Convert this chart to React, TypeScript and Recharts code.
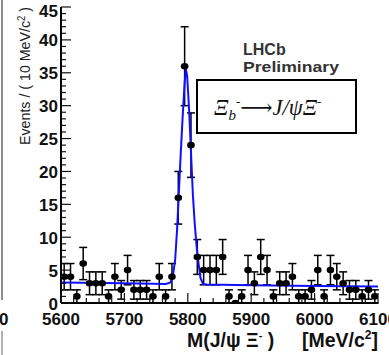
import React from 'react'
import { ComposedChart, Scatter, Line, XAxis, YAxis, ErrorBar } from 'recharts'

// histogram: bin centres (10 MeV/c2 bins) and counts
const binCentres = [
  5605, 5615, 5625, 5635, 5645, 5655, 5665, 5675, 5685, 5695,
  5705, 5715, 5725, 5735, 5745, 5755, 5765, 5775, 5785, 5795,
  5805, 5815, 5825, 5835, 5845, 5855, 5865, 5875, 5885, 5895,
  5905, 5915, 5925, 5935, 5945, 5955, 5965, 5975, 5985, 5995,
  6005, 6015, 6025, 6035, 6045, 6055, 6065, 6075, 6085, 6095,
]
const counts = [
  4, 4, 1, 6, 3, 3, 3, 1, 4, 2,
  5, 2, 2, 2, 1, 4, 1, 4, 16, 36,
  24, 7, 5, 5, 5, 7, 1, 0, 1, 5,
  3, 7, 5, 1, 3, 3, 4, 1, 1, 2,
  5, 1, 5, 4, 3, 2, 2, 1, 2, 1,
]

// fitted curve
const fitMass = [
  5600, 5700, 5765, 5772, 5776, 5780, 5783, 5786, 5789, 5792, 5795, 5797,
  5799, 5802, 5805, 5808, 5811, 5814, 5817, 5820, 5824, 5830, 5900, 6000, 6100,
]
const fitValues = [
  3.1, 3.0, 2.9, 3.1, 3.8, 6.5, 11, 17, 23, 28.5, 33.5, 35.6,
  34.5, 29.5, 23, 16.5, 12, 8.5, 6, 3.8, 2.9, 2.8, 2.7, 2.6, 2.5,
]

const xMajorTicks = [5600, 5700, 5800, 5900, 6000, 6100]
const yMajorTicks = [0, 5, 10, 15, 20, 25, 30, 35, 40, 45]

const xTicks: number[] = []
for (let v = 5600; v <= 6100; v += 20) xTicks.push(v)
const yTicks: number[] = []
for (let v = 0; v <= 45; v += 1) yTicks.push(v)

const histData = binCentres.map((x, i) => ({ x, y: counts[i], err: Math.sqrt(counts[i]) }))
const fitData = fitMass.map((x, i) => ({ x, y: fitValues[i] }))

const W = 389
const H = 355
const FRAME = { left: 61, right: 378, top: 7, bottom: 303 }
const SANS = '"Liberation Sans", Arial, Helvetica, sans-serif'
const TICK = '#111'

function BottomTick({ x, payload }: any) {
  const major = xMajorTicks.includes(payload.value)
  return (
    <g>
      <line x1={x} x2={x} y1={FRAME.bottom} y2={FRAME.bottom - (major ? 10 : 5)} stroke={TICK} strokeWidth={1.2} />
      {major && (
        <text x={x} y={325} textAnchor="middle" fontFamily={SANS} fontWeight="bold" fontSize={17} fill="#111">
          {payload.value}
        </text>
      )}
    </g>
  )
}

function TopTick({ x, payload }: any) {
  const major = xMajorTicks.includes(payload.value)
  return <line x1={x} x2={x} y1={FRAME.top} y2={FRAME.top + (major ? 10 : 5)} stroke={TICK} strokeWidth={1.2} />
}

function LeftTick({ y, payload }: any) {
  const major = yMajorTicks.includes(payload.value)
  return (
    <g>
      <line x1={FRAME.left} x2={FRAME.left + (major ? 10 : 5)} y1={y} y2={y} stroke={TICK} strokeWidth={1.2} />
      {major && (
        <text x={58} y={Math.max(y + 6.5, 17)} textAnchor="end" fontFamily={SANS} fontWeight="bold" fontSize={17} fill="#111">
          {payload.value}
        </text>
      )}
    </g>
  )
}

function RightTick({ y, payload }: any) {
  const major = yMajorTicks.includes(payload.value)
  return <line x1={FRAME.right} x2={FRAME.right - (major ? 10 : 5)} y1={y} y2={y} stroke={TICK} strokeWidth={1.2} />
}

function Dot({ cx, cy }: any) {
  return <ellipse cx={cx} cy={cy} rx={3.8} ry={3.3} fill="#000" />
}

export default function App() {
  return (
    <div style={{ position: 'absolute', left: 0, top: 0, width: W, height: H, background: '#fff' }}>
      <ComposedChart width={W} height={H} margin={{ top: FRAME.top, right: W - FRAME.right, left: 0, bottom: 0 }}>
        <XAxis
          xAxisId="b"
          dataKey="x"
          type="number"
          domain={[5600, 6100]}
          allowDataOverflow
          ticks={xTicks}
          interval={0}
          height={H - FRAME.bottom}
          tickLine={false}
          tickSize={0}
          tick={<BottomTick />}
          axisLine={{ stroke: '#000', strokeWidth: 2 }}
        />
        <XAxis
          xAxisId="t"
          orientation="top"
          dataKey="x"
          type="number"
          domain={[5600, 6100]}
          allowDataOverflow
          ticks={xTicks}
          interval={0}
          height={0}
          tickLine={false}
          tickSize={0}
          tick={<TopTick />}
          axisLine={{ stroke: '#000', strokeWidth: 2 }}
        />
        <YAxis
          yAxisId="l"
          type="number"
          domain={[0, 45]}
          allowDataOverflow
          ticks={yTicks}
          interval={0}
          width={FRAME.left}
          tickLine={false}
          tickSize={0}
          tick={<LeftTick />}
          axisLine={{ stroke: '#000', strokeWidth: 2 }}
        />
        <YAxis
          yAxisId="r"
          orientation="right"
          type="number"
          domain={[0, 45]}
          allowDataOverflow
          ticks={yTicks}
          interval={0}
          width={0}
          tickLine={false}
          tickSize={0}
          tick={<RightTick />}
          axisLine={{ stroke: '#000', strokeWidth: 2 }}
        />
        <Scatter
          xAxisId="b"
          yAxisId="l"
          data={histData}
          dataKey="y"
          shape={<Dot />}
          isAnimationActive={false}
        >
          <ErrorBar dataKey="err" direction="y" width={4} stroke="#000" strokeWidth={1.5} isAnimationActive={false} />
        </Scatter>
        <Line
          xAxisId="b"
          yAxisId="l"
          data={fitData}
          dataKey="y"
          type="linear"
          stroke="#1010ff"
          strokeWidth={2}
          dot={false}
          activeDot={false}
          isAnimationActive={false}
        />
      </ComposedChart>

      <svg width={W} height={H} style={{ position: 'absolute', left: 0, top: 0, pointerEvents: 'none' }}>
        {/* edge of the neighbouring panel */}
        <line x1={2} x2={2} y1={0} y2={300} stroke="#666" strokeWidth={1.5} />
        <line x1={2} x2={2} y1={331} y2={355} stroke="#999" strokeWidth={1.5} />
        <text x={-1} y={325} fontFamily={SANS} fontWeight="bold" fontSize={17} fill="#111">0</text>

        <text
          transform="translate(30,76) rotate(-90)"
          textAnchor="middle"
          fontFamily={SANS}
          fontSize={15}
          fill="#222"
          textLength={138}
          lengthAdjust="spacingAndGlyphs"
        >
          Events / ( 10 MeV/c<tspan dy={-5} fontSize={10}>2</tspan><tspan dy={5}> )</tspan>
        </text>

        <text x={187} y={347} fontFamily={SANS} fontWeight="bold" fontSize={19.5} fill="#111">
          M(J/ψ Ξ<tspan dy={-8} fontSize={11}>-</tspan><tspan dy={8}> )</tspan>
        </text>
        <text x={378} y={347} textAnchor="end" fontFamily={SANS} fontWeight="bold" fontSize={19.5} fill="#111">
          [MeV/c<tspan dy={-8} fontSize={12}>2</tspan><tspan dy={8}>]</tspan>
        </text>

        <text x={243} y={55} fontFamily={SANS} fontWeight="bold" fontSize={16} fill="#333">
          LHCb
        </text>
        <text x={243} y={72} fontFamily={SANS} fontWeight="bold" fontSize={15.5} fill="#333" textLength={96} lengthAdjust="spacingAndGlyphs">
          Preliminary
        </text>

        <rect x={197} y={80} width={159} height={53} fill="#fff" stroke="#000" strokeWidth={2} />
        <text x={214} y={115} fontFamily='"Liberation Serif", "DejaVu Serif", serif' fontStyle="italic" fontSize={22.5} fill="#111">
          Ξ<tspan dy={5} fontSize={15}>b</tspan><tspan dy={-14} fontSize={13}>-</tspan><tspan dy={9} fontSize={22.5}>⟶J/ψΞ</tspan><tspan dy={-9} fontSize={13}>-</tspan>
        </text>
      </svg>
    </div>
  )
}
